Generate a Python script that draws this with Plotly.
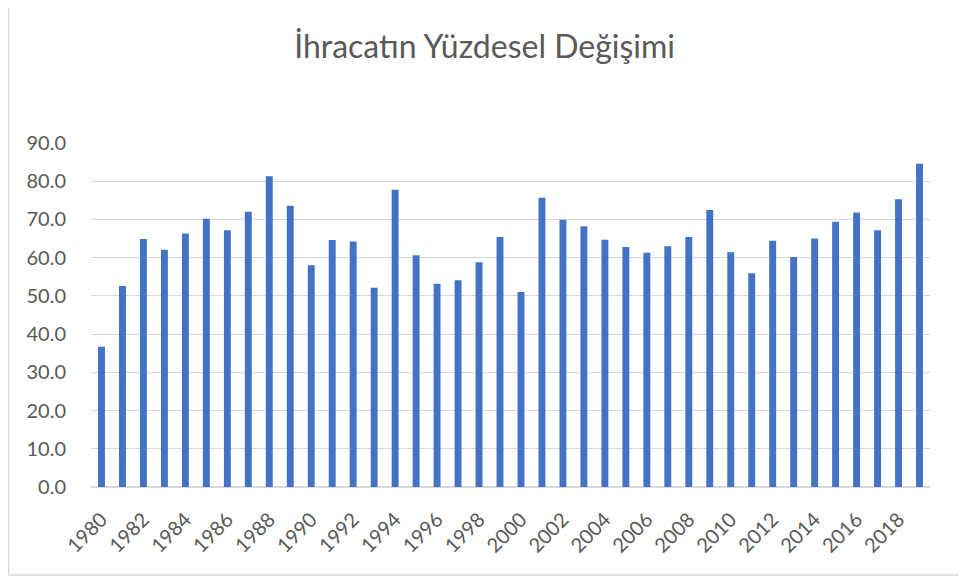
import plotly.graph_objects as go

years = list(range(1980, 2020))
values = [36.7, 52.6, 64.9, 62.1, 66.3, 70.2, 67.2, 72.0, 81.3, 73.6,
          58.0, 64.6, 64.2, 52.1, 77.8, 60.6, 53.2, 54.1, 58.8, 65.4,
          51.0, 75.7, 69.9, 68.2, 64.7, 62.8, 61.3, 63.0, 65.4, 72.5,
          61.4, 55.9, 64.4, 60.2, 65.0, 69.4, 71.8, 67.2, 75.3, 84.6]
tick_years = list(range(1980, 2020, 2))
title_text = "İhracatın Yüzdesel Değişimi"

font_family = "Lato, 'Open Sans', sans-serif"
grey_text = "#595959"
grid = "#d9d9d9"

fig = go.Figure(go.Bar(x=years, y=values, marker_color="#4472C4",
                       marker_line_width=0))

fig.update_layout(
    width=959, height=571,
    margin=dict(l=83, r=37, t=135, b=92),
    paper_bgcolor="white", plot_bgcolor="white",
    bargap=0.67,
    showlegend=False,
    title=dict(text=title_text, x=0.497, xanchor="center", y=0.932, yanchor="middle",
               font=dict(family=font_family, size=32, color=grey_text)),
    font=dict(family=font_family, color=grey_text, size=20),
    xaxis=dict(range=[1979.5, 2019.5], tickmode="array", tickvals=tick_years,
               ticktext=[str(y) for y in tick_years], tickangle=-45,
               showgrid=False, showline=True, linecolor=grid, linewidth=1,
               ticks="", tickfont=dict(size=20, color=grey_text),
               ticklabelstandoff=12, automargin=False),
    yaxis=dict(range=[0, 90], dtick=10, tickformat=".1f", showgrid=True,
               gridcolor=grid, gridwidth=1, zeroline=True, zerolinecolor=grid,
               ticks="", ticklen=0, tickfont=dict(size=20, color=grey_text),
               ticklabelstandoff=24, automargin=False),
    shapes=[dict(type="rect", xref="paper", yref="paper",
                 x0=-0.0983, x1=1.2, y0=-0.256, y1=1.6,
                 line=dict(color=grid, width=1.5), fillcolor="rgba(0,0,0,0)",
                 layer="below")],
)

fig.write_html("out.html")
